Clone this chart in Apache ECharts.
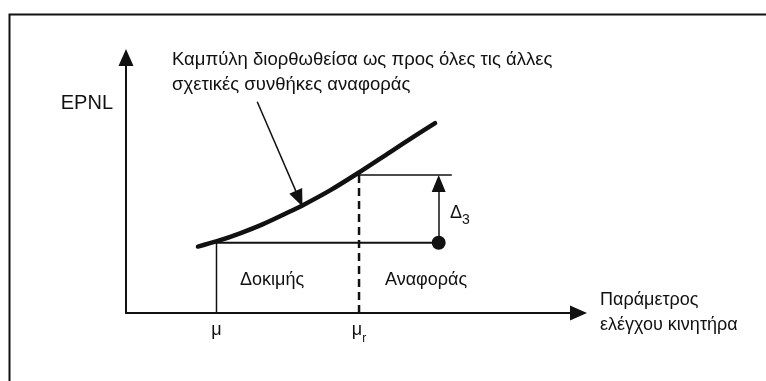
<!DOCTYPE html>
<html>
<head>
<meta charset="utf-8">
<style>
  html, body { margin: 0; padding: 0; background: #fff; }
  #chart { width: 766px; height: 381px; }
</style>
<script src="https://cdn.jsdelivr.net/npm/echarts@6/dist/echarts.min.js"></script>
</head>
<body>
<div id="chart"></div>
<script>
// EPNL against the engine control parameter (schematic, arbitrary units)
const curveX = [1.59, 2.03, 2.52, 3.03, 3.62, 3.91, 4.51, 5.13, 5.83, 6.43, 6.83];
const curveY = [2.60, 2.82, 3.12, 3.48, 3.97, 4.22, 4.80, 5.48, 6.29, 6.98, 7.43];

// parameter values: test (μ) and reference (μr)
const paramValues = [2.00, 5.15];
const paramLabels = ['μ', 'μ{sub|r}'];

// EPNL levels at the test and reference parameter values
const levels = [2.75, 5.40];

// position of the Δ3 correction arrow and the end of the reference level line
const deltaX = [6.91];
const refLineEnd = [7.20];

// leader from the curve caption to the curve (tail, tip)
const pointerFrom = [2.90, 8.27];
const pointerTo = [3.90, 4.17];

// y-axis tick carrying the axis title
const yTitleValue = [8.2];

const FONT = '"Liberation Sans Narrow", "Liberation Sans", Arial, sans-serif';
const INK = '#111';
const ARROW = [14, 17];

const chart = echarts.init(document.getElementById('chart'), null, { renderer: 'canvas' });

const seg = (name, pts, width, type) => ({
  name, type: 'line', data: pts, symbol: 'none', silent: true,
  lineStyle: { color: INK, width, type: type || 'solid', cap: 'butt' },
  z: 3
});

chart.setOption({
  animation: false,
  backgroundColor: '#fff',
  grid: { left: 126, right: 187.5, top: 57.5, bottom: 68, containLabel: false },
  xAxis: {
    type: 'value', min: 0, max: 10,
    splitLine: { show: false },
    axisTick: { show: false },
    axisLine: { show: true, onZero: false, lineStyle: { color: INK, width: 2 },
      symbol: ['none', 'triangle'], symbolSize: [15, 17] },
    axisLabel: {
      customValues: paramValues,
      formatter: v => paramLabels[paramValues.indexOf(v)] || '',
      margin: 8, color: INK, fontFamily: FONT, fontSize: 18,
      rich: { sub: { fontSize: 12, verticalAlign: 'bottom', padding: [0, 0, -6, 0], fontFamily: FONT, color: INK } }
    },
    name: 'Παράμετρος\nελέγχου κινητήρα',
    nameLocation: 'end', nameGap: 21.5,
    nameTextStyle: { color: INK, fontFamily: FONT, fontSize: 18, lineHeight: 25, align: 'left', verticalAlign: 'middle', padding: [0, 0, 5, 0] }
  },
  yAxis: {
    type: 'value', min: 0, max: 10,
    splitLine: { show: false },
    axisTick: { show: false },
    axisLine: { show: true, onZero: false, lineStyle: { color: INK, width: 2 },
      symbol: ['none', 'triangle'], symbolSize: [15, 17] },
    axisLabel: {
      customValues: yTitleValue,
      formatter: () => 'EPNL',
      margin: 13, color: INK, fontFamily: FONT, fontSize: 20
    }
  },
  series: [
    {
      name: 'curve', type: 'line', smooth: 0.3, symbol: 'none', silent: true,
      data: curveX.map((x, i) => [x, curveY[i]]),
      lineStyle: { color: INK, width: 4.5, cap: 'round' },
      z: 4
    },
    seg('test-param', [[paramValues[0], 0], [paramValues[0], levels[0]]], 1.5),
    seg('test-level', [[paramValues[0], levels[0]], [deltaX[0], levels[0]]], 2),
    seg('ref-level', [[paramValues[1], levels[1]], [refLineEnd[0], levels[1]]], 1.5),
    seg('ref-param', [[paramValues[1], 0], [paramValues[1], levels[1]]], 2.5, [8, 5]),
    {
      name: 'ref-point', type: 'scatter', silent: true,
      data: [[deltaX[0], levels[0]]],
      symbol: 'circle', symbolSize: 14,
      itemStyle: { color: INK, opacity: 1 }, z: 5
    },
    {
      name: 'arrows', type: 'line', data: [], symbol: 'none', silent: true,
      markLine: {
        silent: true, symbol: ['none', 'triangle'], symbolSize: ARROW,
        label: { show: false },
        lineStyle: { color: INK, width: 1.5, type: 'solid' },
        data: []
      }
    }
  ],
  graphic: [
    { type: 'rect', silent: true, shape: { x: 9.5, y: 14.5, width: 800, height: 400 },
      style: { fill: 'none', stroke: INK, lineWidth: 2 } },
    { type: 'text', silent: true, left: 172, top: 50,
      style: { text: 'Καμπύλη διορθωθείσα ως προς όλες τις άλλες', fill: INK, font: '18.5px ' + FONT } },
    { type: 'text', silent: true, left: 172, top: 75,
      style: { text: 'σχετικές συνθήκες αναφοράς', fill: INK, font: '18.5px ' + FONT } },
    { type: 'text', silent: true, left: 240, top: 271,
      style: { text: 'Δοκιμής', fill: INK, font: '18px ' + FONT } },
    { type: 'text', silent: true, left: 385, top: 271,
      style: { text: 'Αναφοράς', fill: INK, font: '18px ' + FONT } },
    { type: 'text', silent: true, left: 450, top: 204,
      style: { text: '{d|Δ}{s|3}', fill: INK,
        rich: { d: { fontFamily: FONT, fontSize: 18, fill: INK },
                s: { fontFamily: FONT, fontSize: 14, fill: INK, verticalAlign: 'bottom', padding: [0, 0, -5, 0] } } } }
  ]
});

// ECharts centres the end symbol on the line end; pull each line end back by
// half the arrow length so that the arrow tip lands exactly on the target.
function arrowTo(from, tip) {
  const a = chart.convertToPixel({ gridIndex: 0 }, from);
  const b = chart.convertToPixel({ gridIndex: 0 }, tip);
  const dx = b[0] - a[0], dy = b[1] - a[1];
  const len = Math.hypot(dx, dy);
  const back = ARROW[1] / 2;
  const end = [b[0] - dx / len * back, b[1] - dy / len * back];
  return [{ coord: from }, { coord: chart.convertFromPixel({ gridIndex: 0 }, end) }];
}

chart.setOption({
  series: [{}, {}, {}, {}, {}, {}, {
    markLine: {
      data: [
        arrowTo(pointerFrom, pointerTo),
        arrowTo([deltaX[0], levels[0]], [deltaX[0], levels[1]])
      ]
    }
  }]
});
</script>
</body>
</html>
